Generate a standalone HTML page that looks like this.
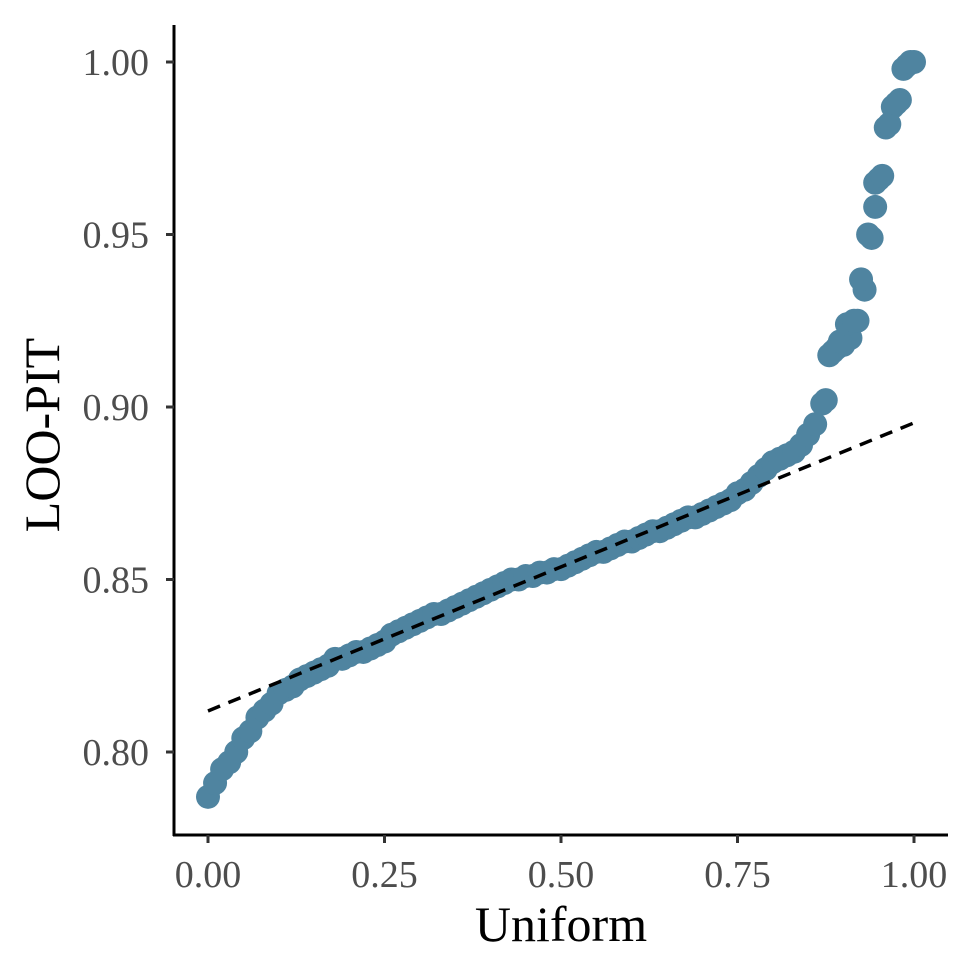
<!DOCTYPE html>
<html><head><meta charset="utf-8"><style>
body{margin:0;background:#fff}
svg text{font-family:"Liberation Serif",serif}
</style></head><body>
<svg id="chart" width="975" height="975" viewBox="0 0 975 975" xmlns="http://www.w3.org/2000/svg">
<g id="points"></g>
<g id="ref"></g>
<g id="axes"></g>
<text x="561" y="941" font-size="50" text-anchor="middle" fill="#000">Uniform</text>
<text x="0" y="0" transform="translate(59,435) rotate(-90)" font-size="50" text-anchor="middle" fill="#000">LOO-PIT</text>
</svg>
<script>
const looPit = [0.787,0.791,0.795,0.797,0.800,0.804,0.806,0.810,0.812,0.814,
0.817,0.818,0.819,0.821,0.822,0.823,0.824,0.825,0.827,0.827,
0.828,0.829,0.829,0.830,0.831,0.832,0.834,0.835,0.836,0.837,
0.838,0.839,0.840,0.840,0.841,0.842,0.843,0.844,0.845,0.846,
0.847,0.848,0.849,0.850,0.850,0.851,0.851,0.852,0.852,0.853,
0.853,0.854,0.855,0.856,0.857,0.858,0.858,0.859,0.860,0.861,
0.861,0.862,0.863,0.864,0.864,0.865,0.866,0.867,0.868,0.868,
0.869,0.870,0.871,0.872,0.873,0.875,0.876,0.878,0.880,0.882,
0.884,0.885,0.886,0.887,0.889,0.892,0.895,0.901,0.915,0.917,
0.918,0.920,0.925,0.934,0.949,0.966,0.981,0.987,0.989,0.999,1.000];
const tailX = [0.875,0.885,0.895,0.905,0.915,0.925,0.935,0.945,0.945,0.955,0.965,0.975,0.985,0.995];
const tailY = [0.902,0.916,0.919,0.924,0.925,0.937,0.950,0.958,0.965,0.967,0.982,0.988,0.998,1.000];
const refLine = [0.8119, 0.8954];
const xTicks = [0, 0.25, 0.5, 0.75, 1.0];
const xTickLabels = ["0.00","0.25","0.50","0.75","1.00"];
const yTicks = [0.80, 0.85, 0.90, 0.95, 1.00];
const yTickLabels = ["0.80","0.85","0.90","0.95","1.00"];

const NS="http://www.w3.org/2000/svg";
const sx = v => 208 + v*706;
const sy = v => 752 - (v-0.80)/0.20*690;
function mk(tag, attrs, parent){const e=document.createElementNS(NS,tag);for(const k in attrs)e.setAttribute(k,attrs[k]);parent.appendChild(e);return e;}
const pg=document.getElementById('points');
looPit.forEach((v,i)=>{
  const c=mk('circle',{cx:sx(i/(looPit.length-1)),cy:sy(v),r:12,fill:'#4f84a0'},pg);
  
  
});
tailX.forEach((x,i)=>{
  const c=mk('circle',{cx:sx(x),cy:sy(tailY[i]),r:12,fill:'#4f84a0'},pg);
  
  
});
const rg=document.getElementById('ref');
const l=mk('line',{x1:sx(0),y1:sy(refLine[0]),x2:sx(1),y2:sy(refLine[1]),stroke:'#000','stroke-width':3.5,'stroke-dasharray':'13,9'},rg);


const ag=document.getElementById('axes');
const ya=mk('line',{x1:174,y1:25,x2:174,y2:836,stroke:'#000','stroke-width':3},ag);


const xa=mk('line',{x1:173,y1:835,x2:948,y2:835,stroke:'#000','stroke-width':3},ag);


xTicks.forEach((v,i)=>{
  const t=mk('line',{x1:sx(v),y1:835,x2:sx(v),y2:843,stroke:'#333','stroke-width':3},ag);
  
  
  const tx=mk('text',{x:sx(v),y:887,'font-size':38,'text-anchor':'middle',fill:'#4d4d4d'},ag);
  tx.textContent=xTickLabels[i];
  
  
});
yTicks.forEach((v,i)=>{
  const t=mk('line',{x1:166,y1:sy(v),x2:174,y2:sy(v),stroke:'#333','stroke-width':3},ag);
  
  
  const tx=mk('text',{x:149,y:sy(v)+13,'font-size':38,'text-anchor':'end',fill:'#4d4d4d'},ag);
  tx.textContent=yTickLabels[i];
  
  
});
</script>
</body></html>
